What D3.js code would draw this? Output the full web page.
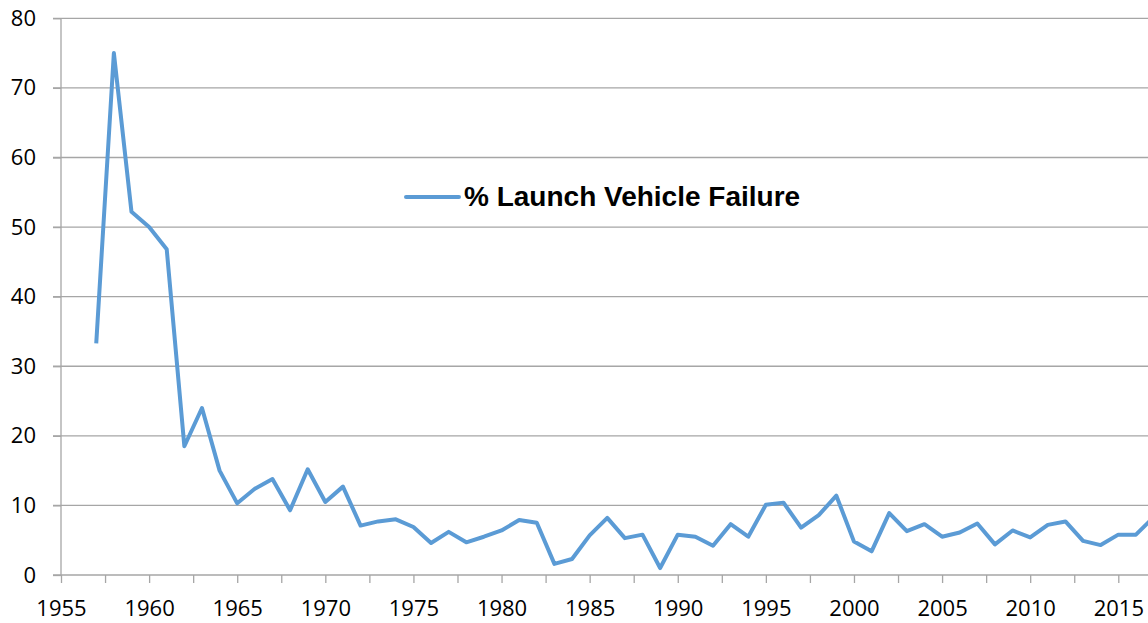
<!DOCTYPE html>
<html>
<head>
<meta charset="utf-8">
<script src="https://cdn.jsdelivr.net/npm/d3@7"></script>
<style>
  body { margin: 0; background: #fff; }
  svg { display: block; }
</style>
</head>
<body>
<div id="container"></div>
<script>
const years = [
  1957, 1958, 1959, 1960, 1961, 1962, 1963, 1964, 1965, 1966,
  1967, 1968, 1969, 1970, 1971, 1972, 1973, 1974, 1975, 1976,
  1977, 1978, 1979, 1980, 1981, 1982, 1983, 1984, 1985, 1986,
  1987, 1988, 1989, 1990, 1991, 1992, 1993, 1994, 1995, 1996,
  1997, 1998, 1999, 2000, 2001, 2002, 2003, 2004, 2005, 2006,
  2007, 2008, 2009, 2010, 2011, 2012, 2013, 2014, 2015, 2016,
  2017,
];
const failurePct = [
  33.3, 75.0, 52.2, 50.0, 46.8, 18.5, 24.0, 15.0, 10.3, 12.4,
  13.8, 9.3, 15.2, 10.5, 12.7, 7.1, 7.7, 8.0, 6.9, 4.6,
  6.2, 4.7, 5.5, 6.4, 7.9, 7.5, 1.6, 2.3, 5.7, 8.2,
  5.3, 5.8, 1.0, 5.8, 5.5, 4.2, 7.3, 5.5, 10.1, 10.4,
  6.8, 8.6, 11.4, 4.8, 3.4, 8.9, 6.3, 7.3, 5.5, 6.1,
  7.4, 4.4, 6.4, 5.4, 7.2, 7.7, 4.9, 4.3, 5.8, 5.8,
  8.3,
];
const yTicks = [0, 10, 20, 30, 40, 50, 60, 70, 80];
const xTicks = d3.range(1955, 2016, 2.5);
const xLabels = [1955, 1960, 1965, 1970, 1975, 1980, 1985, 1990, 1995, 2000, 2005, 2010, 2015];
const seriesName = '% Launch Vehicle Failure';

const svgWidth = 1148,
  svgHeight = 623,
  left = 61,
  plotRight = 1148,
  baseline = 575;

const svg = d3
  .select('#container')
  .append('svg')
  .attr('width', svgWidth)
  .attr('height', svgHeight);

const xScale = d3.scaleLinear().domain([1955, 2015]).range([left, 1118.3]);
const yScale = d3.scaleLinear().domain([0, 80]).range([baseline, 18.3]);

// gridlines
svg
  .append('g')
  .selectAll('line')
  .data(yTicks.slice(1))
  .enter()
  .append('line')
  .attr('x1', left - 8)
  .attr('x2', plotRight)
  .attr('y1', (d) => yScale(d))
  .attr('y2', (d) => yScale(d))
  .attr('stroke', '#a6a6a6')
  .attr('stroke-width', 1.3);

// y axis
const yAxis = d3.axisLeft(yScale).tickValues(yTicks).tickSize(8).tickPadding(17);
svg
  .append('g')
  .attr('transform', `translate(${left},0)`)
  .call(yAxis)
  .call((g) => g.selectAll('line, path').attr('stroke', '#a6a6a6').attr('stroke-width', 1.3))
  .call((g) => g.select('.domain').attr('d', `M0,${yScale(80)}V${baseline}`))
  .call((g) =>
    g
      .selectAll('text')
      .attr('font-family', 'Open Sans')
      .attr('font-size', 22)
      .attr('fill', '#000')
  );

// x axis
const xAxis = d3
  .axisBottom(xScale)
  .tickValues(xTicks)
  .tickSize(8)
  .tickPadding(17)
  .tickFormat((d) => (xLabels.includes(d) ? d3.format('d')(d) : ''));
svg
  .append('g')
  .attr('transform', `translate(0,${baseline})`)
  .call(xAxis)
  .call((g) => g.selectAll('line, path').attr('stroke', '#a6a6a6').attr('stroke-width', 1.3))
  .call((g) => g.select('.domain').attr('d', `M${left - 8},0H${plotRight}`))
  .call((g) =>
    g
      .selectAll('text')
      .attr('font-family', 'Open Sans')
      .attr('font-size', 22)
      .attr('fill', '#000')
  );

// series line
const data = years.map((y, i) => ({ year: y, value: failurePct[i] }));
const line = d3
  .line()
  .x((d) => xScale(d.year))
  .y((d) => yScale(d.value));

svg
  .append('path')
  .datum(data)
  .attr('d', line)
  .attr('fill', 'none')
  .attr('stroke', '#5b9bd5')
  .attr('stroke-width', 4)
  .attr('stroke-linejoin', 'round');

// legend
const legend = svg.append('g').attr('transform', 'translate(406,197)');
legend
  .append('line')
  .attr('x1', 0)
  .attr('x2', 53)
  .attr('stroke', '#5b9bd5')
  .attr('stroke-width', 4)
  .attr('stroke-linecap', 'round');
legend
  .append('text')
  .attr('x', 58)
  .attr('y', 9)
  .text(seriesName)
  .attr('font-family', 'Liberation Sans, Arial, sans-serif')
  .attr('font-weight', 'bold')
  .attr('font-size', 28)
  .attr('fill', '#000');
</script>
</body>
</html>
